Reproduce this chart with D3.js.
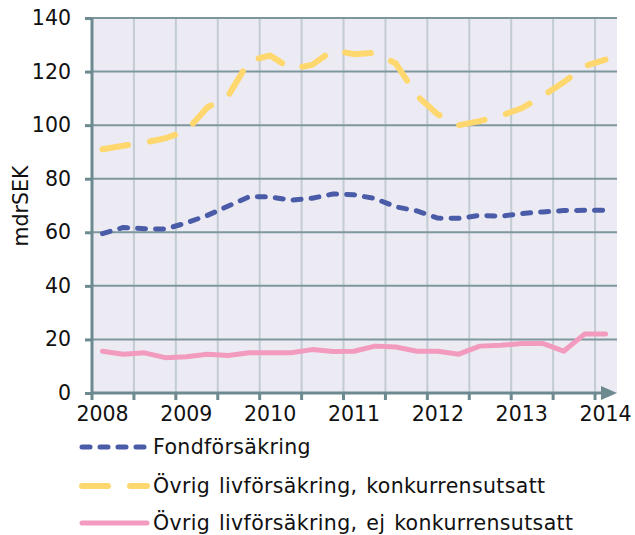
<!DOCTYPE html>
<html>
<head>
<meta charset="utf-8">
<script src="https://cdn.jsdelivr.net/npm/d3@7"></script>
<style>
  body { margin: 0; background: #fff; }
  svg { font-family: "DejaVu Sans", Verdana, sans-serif; }
</style>
</head>
<body>
<div id="chart"></div>
<script>

// Quarters 2008 Q1 .. 2014 Q1, label shown on each Q1
var quarters = ["2008K1","2008K2","2008K3","2008K4",
                "2009K1","2009K2","2009K3","2009K4",
                "2010K1","2010K2","2010K3","2010K4",
                "2011K1","2011K2","2011K3","2011K4",
                "2012K1","2012K2","2012K3","2012K4",
                "2013K1","2013K2","2013K3","2013K4",
                "2014K1"];
var yearLabels = ["2008","2009","2010","2011","2012","2013","2014"];
var yTicks = [0, 20, 40, 60, 80, 100, 120, 140];

// mdrSEK
var fond = [59.5, 61.8, 61.3, 61.2, 63.5, 66.3, 69.8, 73.3, 73.2, 72.0, 72.7, 74.3, 74.0,
            72.6, 69.5, 68.0, 65.3, 65.2, 66.3, 66.0, 67.0, 67.6, 68.1, 68.2, 68.2];
var ovrigKonk = [91.0, 92.3, 93.5, 95.1, 97.8, 106.6, 111.0, 124.0, 126.0, 121.0, 122.5, 128.0, 126.5,
                 127.0, 123.0, 111.0, 104.0, 100.0, 101.5, 103.5, 106.3, 110.8, 116.0, 122.0, 124.5];
var ovrigEj = [15.6, 14.5, 15.0, 13.2, 13.5, 14.5, 14.0, 15.0, 15.0, 15.0, 16.2, 15.5, 15.6,
               17.5, 17.2, 15.6, 15.6, 14.5, 17.5, 17.8, 18.5, 18.5, 15.6, 22.0, 22.0];

var series = [
    { name: "Fondförsäkring", values: fond, colour: "#4a5ca8", width: 5, dash: "8,10" },
    { name: "Övrig livförsäkring, konkurrensutsatt", values: ovrigKonk, colour: "#ffd76f", width: 6, dash: "26,22" },
    { name: "Övrig livförsäkring, ej konkurrensutsatt", values: ovrigEj, colour: "#f29bbf", width: 5, dash: null }
];

var W = 635, H = 535;
var plotLeft = 92, plotRight = 616, plotTop = 18, plotBottom = 393;
var fontSize = "20.5px";

var svg = d3.select("#chart").append("svg")
    .attr("width", W)
    .attr("height", H);

var x = d3.scaleBand()
    .domain(quarters)
    .range([plotLeft, plotRight])
    .padding(0);

var y = d3.scaleLinear()
    .domain([0, 140])
    .range([plotBottom, plotTop]);

var bw = x.bandwidth();
var axisColour = "#6d8a90";

// plot background
svg.append("rect")
    .attr("x", plotLeft).attr("y", plotTop)
    .attr("width", plotRight - plotLeft + 1).attr("height", plotBottom - plotTop)
    .attr("fill", "#ecebf4");

// vertical gridlines, every half year
var halfYears = quarters.filter(function(q, i) { return i % 2 == 0 && i > 0; });
svg.append("g").selectAll("line")
    .data(halfYears)
    .enter().append("line")
    .attr("x1", function(d) { return x(d); })
    .attr("x2", function(d) { return x(d); })
    .attr("y1", plotTop).attr("y2", plotBottom)
    .attr("stroke", "#c2ccd2")
    .attr("stroke-width", 2);

// horizontal gridlines
svg.append("g").selectAll("line")
    .data(yTicks.filter(function(d) { return d > 0; }))
    .enter().append("line")
    .attr("x1", plotLeft).attr("x2", plotRight + 1)
    .attr("y1", function(d) { return y(d); })
    .attr("y2", function(d) { return y(d); })
    .attr("stroke", "#7e979c")
    .attr("stroke-width", 2);

// y axis
var yAxis = svg.append("g")
    .attr("transform", "translate(" + plotLeft + ",0)")
    .call(d3.axisLeft(y).tickValues(yTicks).tickSize(7).tickPadding(14));
yAxis.select(".domain").attr("stroke", axisColour).attr("stroke-width", 3)
    .attr("d", "M0," + plotTop + "V" + plotBottom);
yAxis.selectAll(".tick line").attr("stroke", axisColour).attr("stroke-width", 3);
yAxis.selectAll(".tick text").attr("font-size", fontSize).attr("fill", "#111")
    .attr("font-family", "DejaVu Sans");

// x axis: tick marks at half-year boundaries, year labels at Q1 centres
var xTickG = svg.append("g");
xTickG.selectAll("line")
    .data(quarters.filter(function(q, i) { return i % 2 == 0; }))
    .enter().append("line")
    .attr("x1", function(d) { return x(d); })
    .attr("x2", function(d) { return x(d); })
    .attr("y1", plotBottom).attr("y2", plotBottom + 7)
    .attr("stroke", axisColour)
    .attr("stroke-width", 3);

var xAxis = svg.append("g")
    .attr("transform", "translate(0," + plotBottom + ")")
    .call(d3.axisBottom(x)
        .tickValues(quarters.filter(function(q, i) { return i % 4 == 0; }))
        .tickSize(0).tickPadding(13)
        .tickFormat(function(d) { return yearLabels[quarters.indexOf(d) / 4]; }));
xAxis.select(".domain").remove();
xAxis.selectAll(".tick text").attr("font-size", fontSize).attr("fill", "#111")
    .attr("font-family", "DejaVu Sans");

svg.append("line")
    .attr("x1", plotLeft).attr("x2", plotRight - 14)
    .attr("y1", plotBottom).attr("y2", plotBottom)
    .attr("stroke", axisColour).attr("stroke-width", 3);
svg.append("path")
    .attr("d", "M" + (plotRight - 15) + "," + (plotBottom - 7) + "L" + (plotRight + 1) + "," + plotBottom +
               "L" + (plotRight - 15) + "," + (plotBottom + 7) + "Z")
    .attr("fill", axisColour);

// y label
svg.append("text")
    .attr("transform", "translate(28,206) rotate(-90)")
    .attr("text-anchor", "middle")
    .attr("font-size", fontSize)
    .attr("fill", "#111")
    .text("mdrSEK");

// lines
var line = d3.line()
    .x(function(d, i) { return x(quarters[i]) + bw / 2; })
    .y(function(d) { return y(d); });

svg.append("g").selectAll("path")
    .data(series)
    .enter().append("path")
    .attr("d", function(s) { return line(s.values); })
    .attr("fill", "none")
    .attr("stroke", function(s) { return s.colour; })
    .attr("stroke-width", function(s) { return s.width; })
    .attr("stroke-dasharray", function(s) { return s.dash; })
    .attr("stroke-linecap", "round")
    .attr("stroke-linejoin", "round");

// legend
var legend = svg.append("g").selectAll("g")
    .data(series)
    .enter().append("g")
    .attr("transform", function(s, i) { return "translate(0," + [447, 486, 523][i] + ")"; });

legend.append("line")
    .attr("x1", 82).attr("x2", 147)
    .attr("y1", 0).attr("y2", 0)
    .attr("stroke", function(s) { return s.colour; })
    .attr("stroke-width", function(s) { return s.width; })
    .attr("stroke-dasharray", function(s) { return s.dash; })
    .attr("stroke-linecap", "round");

legend.append("text")
    .attr("x", 153)
    .attr("y", 7)
    .attr("font-size", fontSize)
    .attr("letter-spacing", "0.35px")
    .attr("word-spacing", "2px")
    .attr("fill", "#111")
    .text(function(s) { return s.name; });

</script>
</body>
</html>
